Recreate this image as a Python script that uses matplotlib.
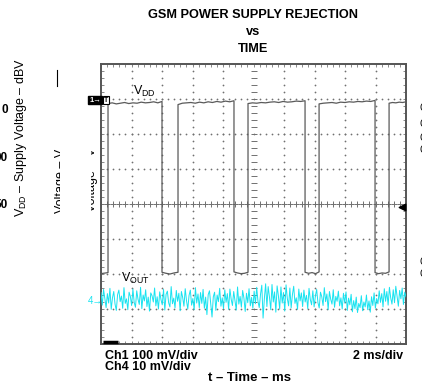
import numpy as np
import matplotlib
matplotlib.use("Agg")
import matplotlib.pyplot as plt
from matplotlib.ticker import MultipleLocator
from matplotlib.transforms import Bbox, TransformedBbox

plt.rcParams['font.family'] = ['Liberation Sans', 'DejaVu Sans']
plt.rcParams['mathtext.fontset'] = 'custom'
plt.rcParams['mathtext.rm'] = 'Liberation Sans'
plt.rcParams['mathtext.bf'] = 'Liberation Sans:bold'

# scope settings
ms_per_div = 2
ch1_mv_per_div = 100
ch4_mv_per_div = 10
ch1_offset_div = 2.9
ch4_offset_div = -2.74

# VDD (Ch1): segment edges in ms, low / high alternating, starting low
vdd_edges_ms = [0, 0.46, 4.0, 5.05, 8.72, 9.64, 13.38, 14.3, 17.97, 18.89, 20]
vdd_high_mv = 0
vdd_low_mv = -487
vdd_ripple_mv = [
    [-2, 1],
    [-3, -1, -4, -2, 0, -3, -1, -2, 1, -1, 0, 2, -1, 3],
    [2, -1, -3, 0, 2],
    [-6, -2, -1, 0, -2, 1, -1, 2, 0, 3, 1, 4, 2, 5],
    [3, 0, -2, -1, 2],
    [-3, -1, -2, 0, -1, 1, 2, 0, 3, 1, 2, 4, 3, 5],
    [2, -1, 1, -2, 3],
    [-4, -2, -1, 0, -2, 1, 0, 2, 1, 3, 2, 4, 3, 6],
    [1, -2, 0, -1, 3],
    [-2, 0, -1, 1, 0, 2],
]

# VOUT (Ch4) noise, mV
vout_mv = [
    2.1, -1.5, 3.0, 0.4, -2.2, 1.8, -0.9, 3.3, -2.7, 0.6, 2.4, -1.2, -3.0, 1.5, 2.8, -0.5, 1.1, -2.4, 3.5, -1.0,
    0.3, -2.8, 2.2, 1.0, -1.6, 3.1, -0.7, -2.1, 2.6, 0.2, -1.3, 3.6, -2.5, 1.4, -0.3, 2.9, -1.9, 0.8, -3.2, 2.0,
    1.2, -0.6, 3.4, -1.7, 0.9, -2.6, 2.3, 0.1, -1.4, 3.0, -2.9, 1.6, 2.5, -0.8, -2.0, 3.8, -1.1, 0.5, -2.3, 2.7,
    -0.4, 1.9, -3.1, 2.4, 0.7, -1.8, 3.2, -0.2, -2.6, 1.3, 2.8, -1.5, 0.4, -2.8, 3.5, -0.9, 1.7, -2.2, 2.1, -1.0,
    3.0, -2.4, 0.8, -4.2, 1.5, 2.6, -1.3, -4.9, 0.9, 2.2, -3.0, 1.4, -0.5, 3.3, -1.8, 0.6, -2.5, 2.9, -0.7, 1.8,
    -2.7, 3.1, 0.2, -1.6, 2.4, -0.3, -2.9, 3.7, -1.2, 1.0, -2.1, 2.7, 0.5, -3.3, 1.9, -0.8, 3.2, -1.7, 0.7, -2.4,
    2.5, -1.1, 3.6, -0.4, -2.2, 1.6, 4.2, -5.2, 0.3, 4.6, -1.9, 3.8, 0.8, -2.8, 4.4, -0.6, 2.3, -3.5, 4.0, 1.2,
    -2.6, 3.7, -0.9, 2.1, -3.2, 4.3, 0.4, -1.7, 3.4, -2.3, 1.5, 3.9, -1.0, 0.6, -2.7, 3.1, -0.3, 2.0, -1.9, 2.8,
    -0.6, 1.3, -2.5, 3.3, 0.1, -1.4, 2.6, -2.0, 1.1, 3.0, -0.8, -2.3, 2.2, 0.9, -1.6, 3.5, -0.5, 1.7, -2.8, 2.4,
    0.2, -1.2, 2.9, -2.1, 1.0, -0.4, 2.5, -1.7, 0.6, -2.6, 1.9, -0.9, 2.3, -3.0, 0.5, -1.4, 1.6, -3.4, -0.2, -2.5,
    0.8, -3.6, -1.0, -2.2, 1.2, -3.1, -0.6, -2.0, 1.4, -2.8, -0.3, -3.5, 0.9, -1.6, 2.0, -2.4, 0.4, -1.1, 2.6, -0.7,
    1.8, -2.0, 3.2, -0.4, 2.4, -1.5, 3.6, 0.6, -1.2, 2.9, -0.8, 3.9, 1.0, -1.8, 2.7, 0.3, 3.4, -1.3, 2.2, 0.9,
]

W, H = 422, 386
fig = plt.figure(figsize=(W / 100, H / 100), dpi=100)
ax = fig.add_axes([101 / W, 1 - 344 / H, 305 / W, 280 / H])
ax.set_xlim(0, 10 * ms_per_div)
ax.set_ylim(-4, 4)

# graticule
grid_c = '#707070'
for gx in np.arange(1, 10) * ms_per_div:
    ys = np.arange(-4, 4.01, 0.2)
    if gx == 5 * ms_per_div:
        ax.scatter(np.full_like(ys, gx), ys, marker='_', s=14, color=grid_c, lw=0.7, zorder=1)
    else:
        ax.scatter(np.full_like(ys, gx), ys, s=1.6, color=grid_c, lw=0, zorder=1)
for gy in np.arange(-3, 4):
    xs = np.arange(0, 20.01, 0.4)
    if gy == 0:
        ax.scatter(xs, np.zeros_like(xs), marker='+', s=14, color=grid_c, lw=0.7, zorder=1)
    else:
        ax.scatter(xs, np.full_like(xs, gy), s=1.6, color=grid_c, lw=0, zorder=1)

ax.xaxis.set_major_locator(MultipleLocator(ms_per_div))
ax.xaxis.set_minor_locator(MultipleLocator(0.4))
ax.yaxis.set_major_locator(MultipleLocator(1))
ax.yaxis.set_minor_locator(MultipleLocator(0.2))
ax.tick_params(which='both', direction='in', top=True, right=True, length=2.5,
               width=0.6, color='#777777', labelbottom=False, labelleft=False)
for sp in ax.spines.values():
    sp.set_color('#555555')
    sp.set_linewidth(1.4)

# VDD trace
t_vdd, v_vdd = [], []
for i, rip in enumerate(vdd_ripple_mv):
    level = vdd_low_mv if i % 2 == 0 else vdd_high_mv
    ts = np.linspace(vdd_edges_ms[i], vdd_edges_ms[i + 1], len(rip))
    t_vdd.extend(ts)
    v_vdd.extend(level + np.array(rip))
ax.plot(t_vdd, ch1_offset_div + np.array(v_vdd) / ch1_mv_per_div, color='#5a5a5a', lw=0.9, zorder=3)

# VOUT trace
t_out = np.linspace(0, 10 * ms_per_div, len(vout_mv))
ax.plot(t_out, ch4_offset_div + np.array(vout_mv) / ch4_mv_per_div, color='#19e3f0', lw=0.7, zorder=4)

# trigger level marker and trigger position
ax.scatter([19.75], [-0.1], marker='<', s=22, color='black', zorder=5, clip_on=False)
ax.plot([0.1, 1.1], [-3.95, -3.95], color='black', lw=2.5, zorder=5, solid_capstyle='butt', clip_on=False)


def fx(x):
    return x / W


def fy(y):
    return 1 - y / H


# titles
fig.text(fx(253), fy(18), 'GSM POWER SUPPLY REJECTION', ha='center', va='baseline', fontsize=9.2, weight='bold')
fig.text(fx(253), fy(35), 'vs', ha='center', va='baseline', fontsize=9.2, weight='bold')
fig.text(fx(253), fy(52), 'TIME', ha='center', va='baseline', fontsize=9.2, weight='bold')

# trace labels
fig.text(fx(133), fy(95), r'V$_\mathregular{DD}$', ha='left', va='baseline', fontsize=9)
fig.text(fx(121), fy(282), r'V$_\mathregular{OUT}$', ha='left', va='baseline', fontsize=9)

# channel markers
fig.text(fx(95), fy(100), '1\u2192', ha='center', va='center', fontsize=5.5, color='white', weight='bold',
         bbox=dict(boxstyle='square,pad=0.1', fc='black', ec='black'))
fig.text(fx(106), fy(100), 'T', ha='center', va='center', fontsize=5, color='black', weight='bold',
         bbox=dict(boxstyle='square,pad=0.1', fc='white', ec='black', lw=0.8))
fig.text(fx(95), fy(301), '4\u2192', ha='center', va='center', fontsize=7, color='#19e3f0')

# scale texts
fig.text(fx(105), fy(359), 'Ch1 100 mV/div', ha='left', va='baseline', fontsize=9, weight='bold')
fig.text(fx(105), fy(370), 'Ch4 10 mV/div', ha='left', va='baseline', fontsize=9, weight='bold')
fig.text(fx(403), fy(359), '2 ms/div', ha='right', va='baseline', fontsize=9, weight='bold')
fig.text(fx(250), fy(381), 't \u2013 Time \u2013 ms', ha='center', va='baseline', fontsize=9.5, weight='bold')

# leftover fragments from neighbouring charts
fig.text(fx(21), fy(138), 'V$_\\mathregular{DD}$ \u2013 Supply Voltage \u2013 dBV',
         rotation=90, ha='center', va='center', fontsize=9)
for yy, s in [(110, '0'), (158, '90'), (205, '50')]:
    fig.text(fx(8), fy(yy), s, ha='right', va='center', fontsize=8.5, weight='bold')
t1 = fig.text(fx(61), fy(181), 'Voltage \u2013 V', rotation=90, ha='center', va='center', fontsize=9)
t1.set_clip_box(TransformedBbox(Bbox([[0, 0], [fx(60), 1]]), fig.transFigure))
t1.set_clip_on(True)
t2 = fig.text(fx(92.5), fy(180), 'Voltage \u2013 V', rotation=90, ha='center', va='center', fontsize=9)
t2.set_clip_box(TransformedBbox(Bbox([[fx(90.5), 0], [1, 1]]), fig.transFigure))
t2.set_clip_on(True)
fig.add_artist(plt.Line2D([fx(57), fx(57)], [fy(70), fy(86)], color='black', lw=0.8))
for yy in [108, 124, 138, 150, 262, 274]:
    fig.text(fx(419), fy(yy), 'C', ha='left', va='center', fontsize=7)

fig.savefig('out.png', dpi=100)
